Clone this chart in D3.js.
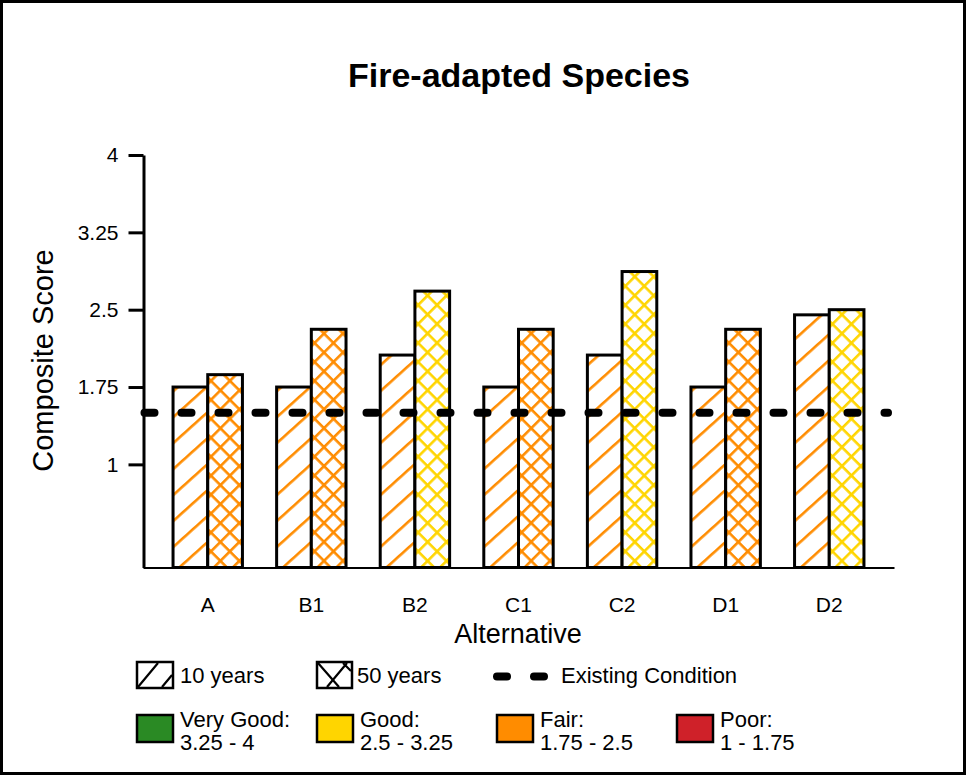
<!DOCTYPE html>
<html><head><meta charset="utf-8">
<script src="https://cdn.jsdelivr.net/npm/d3@7"></script>
<style>
html,body{margin:0;padding:0;background:#fff;}
svg{display:block;font-family:"Liberation Sans",Arial,sans-serif;}
</style></head><body>
<svg id="chart" width="966" height="775"></svg>
<script>
// ---- data ----
const categories = ["A","B1","B2","C1","C2","D1","D2"];
const seriesNames = ["10 years","50 years"];
const values10 = [1.75,1.75,2.06,1.75,2.06,1.75,2.45];
const values50 = [1.87,2.31,2.68,2.31,2.87,2.31,2.5];
const existingCondition = 1.5;
const yTicks = [1,1.75,2.5,3.25,4];
const yTickLabels = ["1","1.75","2.5","3.25","4"];
const ratingNames = ["Very Good:","Good:","Fair:","Poor:"];
const ratingRanges = ["3.25 - 4","2.5 - 3.25","1.75 - 2.5","1 - 1.75"];
const ratingMins = [3.25,2.5,1.75,1];
const ratingColors = ["#2a8a24","#ffd500","#ff8c00","#cf2129"];
const titleText = "Fire-adapted Species";
const xTitle = "Alternative";
const yTitle = "Composite Score";
const existingLabel = "Existing Condition";

// ---- setup ----
const svg = d3.select("#chart");
const W = 966, H = 775;
svg.append("rect").attr("x",1.5).attr("y",1.5).attr("width",W-3).attr("height",H-3)
  .attr("fill","#fff").attr("stroke","#000").attr("stroke-width",3);

const x0 = d3.scaleBand().domain(categories).range([143,894]).paddingInner(0.33).paddingOuter(0.29);
const x1 = d3.scaleBand().domain(seriesNames).range([0,x0.bandwidth()]).padding(0);
const y = d3.scaleLinear().domain([0,4]).range([567.5,155]);

function ratingIndex(v){
  for(let i=0;i<ratingMins.length;i++){ if(v>=ratingMins[i]-1e-9) return i; }
  return ratingMins.length-1;
}

// ---- patterns ----
const defs = svg.append("defs");
ratingColors.forEach((c,i)=>{
  const h = defs.append("pattern").attr("id","hatch-"+i)
    .attr("patternUnits","userSpaceOnUse").attr("width",19.3).attr("height",10)
    .attr("patternTransform","rotate(48)");
  h.append("rect").attr("width",19.3).attr("height",10).attr("fill","#fff");
  h.append("rect").attr("x",0).attr("y",0).attr("width",2.6).attr("height",10).attr("fill",c);
  const s = 13.4;
  const k = defs.append("pattern").attr("id","cross-"+i)
    .attr("patternUnits","userSpaceOnUse").attr("width",s).attr("height",s)
    .attr("patternTransform","rotate(45)");
  k.append("rect").attr("width",s).attr("height",s).attr("fill","#fff");
  k.append("rect").attr("x",0).attr("y",0).attr("width",s).attr("height",2.6).attr("fill",c);
  k.append("rect").attr("x",0).attr("y",0).attr("width",2.6).attr("height",s).attr("fill",c);
});

// ---- bars ----
const rows = categories.map((c,i)=>({cat:c, vals:[values10[i], values50[i]]}));
const groups = svg.append("g").selectAll("g").data(rows).join("g")
  .attr("transform",d=>`translate(${x0(d.cat)},0)`);
groups.selectAll("rect").data(d=>d.vals.map((v,j)=>({s:seriesNames[j], v, j})))
  .join("rect")
  .attr("x",d=>x1(d.s))
  .attr("y",d=>y(d.v))
  .attr("width",x1.bandwidth())
  .attr("height",d=>y(0)-y(d.v))
  .attr("fill",d=>`url(#${d.j===0?"hatch":"cross"}-${ratingIndex(d.v)})`)
  .attr("stroke","#000").attr("stroke-width",3);

// ---- axes ----
const xAxis = svg.append("g").attr("transform",`translate(0,${y(0)})`)
  .call(d3.axisBottom(x0).tickSize(0).tickPadding(30));
xAxis.select(".domain").attr("stroke","#000").attr("stroke-width",2);
xAxis.selectAll("text").attr("font-size",21).attr("fill","#000").style("font-family","Liberation Sans, Arial, sans-serif");

const yAxis = svg.append("g").attr("transform","translate(143.5,0)")
  .call(d3.axisLeft(y).tickValues(yTicks).tickFormat((d,i)=>yTickLabels[i]).tickSize(15).tickPadding(10).tickSizeOuter(0));
yAxis.select(".domain").attr("stroke","#000").attr("stroke-width",3);
yAxis.selectAll(".tick line").attr("stroke","#000").attr("stroke-width",3);
yAxis.selectAll("text").attr("font-size",21).attr("fill","#000").style("font-family","Liberation Sans, Arial, sans-serif");

// ---- existing condition line ----
svg.append("line").attr("x1",144.5).attr("x2",888)
  .attr("y1",y(existingCondition)).attr("y2",y(existingCondition))
  .attr("stroke","#000").attr("stroke-width",8).attr("stroke-linecap","round")
  .attr("stroke-dasharray","10 27");

// ---- titles ----
svg.append("text").attr("x",519).attr("y",87).attr("text-anchor","middle")
  .attr("font-size",34).attr("font-weight","bold").text(titleText);
svg.append("text").attr("x",518).attr("y",643).attr("text-anchor","middle")
  .attr("font-size",27).text(xTitle);
svg.append("text").attr("transform","translate(53,360.5) rotate(-90)").attr("text-anchor","middle")
  .attr("font-size",29).text(yTitle);

// ---- legend row 1 ----
const lg = svg.append("g");
// 10 years icon
lg.append("rect").attr("x",137).attr("y",662).attr("width",36).attr("height",26)
  .attr("fill","#fff").attr("stroke","#000").attr("stroke-width",2.5);
lg.append("path").attr("d","M138,687 L158,663 M162,687 L172,675").attr("stroke","#000").attr("stroke-width",2.2).attr("fill","none");
lg.append("text").attr("x",180).attr("y",683).attr("font-size",22).text(seriesNames[0]);
// 50 years icon
lg.append("rect").attr("x",317).attr("y",662).attr("width",35).attr("height",26)
  .attr("fill","#fff").attr("stroke","#000").attr("stroke-width",2.5);
lg.append("path").attr("d","M318,663 L339,687 M327,687 L347,663 M343,663 L351,671").attr("stroke","#000").attr("stroke-width",2.2).attr("fill","none");
lg.append("text").attr("x",357).attr("y",683).attr("font-size",22).text(seriesNames[1]);
// existing condition
lg.append("line").attr("x1",497).attr("x2",544).attr("y1",676.5).attr("y2",676.5)
  .attr("stroke","#000").attr("stroke-width",8).attr("stroke-linecap","round").attr("stroke-dasharray","10 27");
lg.append("text").attr("x",561).attr("y",683).attr("font-size",22).text(existingLabel);

// ---- legend row 2 ----
ratingNames.forEach((n,i)=>{
  const bx = 137 + i*180;
  lg.append("rect").attr("x",bx).attr("y",715).attr("width",36).attr("height",27)
    .attr("fill",ratingColors[i]).attr("stroke","#000").attr("stroke-width",2.5);
  lg.append("text").attr("x",bx+43).attr("y",727).attr("font-size",22).text(n);
  lg.append("text").attr("x",bx+43).attr("y",750).attr("font-size",22).text(ratingRanges[i]);
});
</script>
</body></html>
